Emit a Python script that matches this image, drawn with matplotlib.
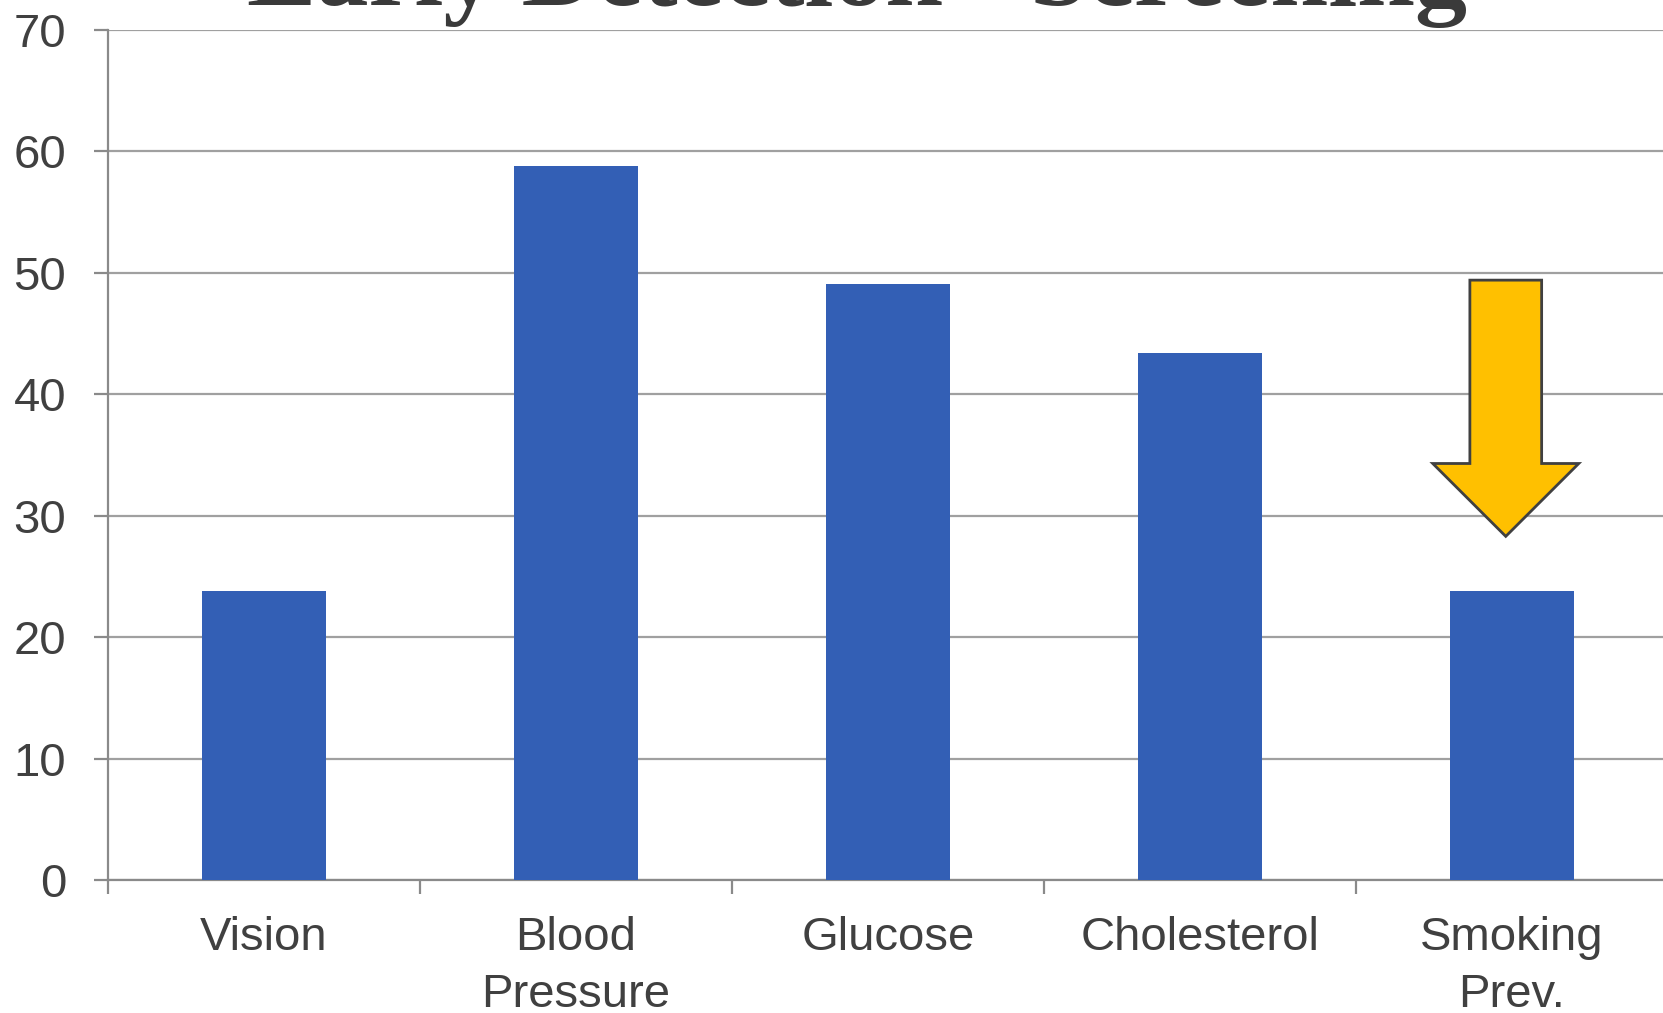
import matplotlib
matplotlib.use("Agg")
import matplotlib.pyplot as plt
import numpy as np

# screening rates by category
categories = ["Vision", "Blood\nPressure", "Glucose", "Cholesterol", "Smoking\nPrev."]
values = [23.8, 58.8, 49.1, 43.4, 23.8]
yticks = [0, 10, 20, 30, 40, 50, 60, 70]

# down arrow over the smoking bar
arrow_x = 3.98
arrow_top = 49.4
arrow_tip = 28.3

bar_color = "#335fb5"
text_color = "#404040"
grid_color = "#a0a0a0"
axis_color = "#8a8a8a"

plt.rcParams['font.family'] = ['Liberation Sans', 'DejaVu Sans']

fig = plt.figure(figsize=(16.63, 10.13), dpi=100)
ax = fig.add_axes([108 / 1663, 133 / 1013, 1560 / 1663, 850 / 1013])

x = np.arange(len(categories))
ax.bar(x, values, width=0.4, color=bar_color, zorder=3)

ax.set_xlim(-0.5, len(categories) - 0.5)
ax.set_ylim(0, 70)
ax.set_yticks(yticks)
ax.set_yticklabels([str(v) for v in yticks])
ax.yaxis.grid(True, color=grid_color, lw=1.6, zorder=0)
ax.set_axisbelow(True)

ax.set_xticks(x)
ax.set_xticklabels(categories, linespacing=1.38)
ax.set_xticks(np.arange(len(categories) + 1) - 0.5, minor=True)

for s in ["top", "right"]:
    ax.spines[s].set_visible(False)
for s in ["left", "bottom"]:
    ax.spines[s].set_color(axis_color)
    ax.spines[s].set_linewidth(1.6)

ax.tick_params(axis="y", length=10, width=1.6, color=axis_color, pad=20,
               labelsize=34, labelcolor=text_color)
ax.tick_params(axis="x", which="major", length=0, pad=26,
               labelsize=34, labelcolor=text_color)
ax.tick_params(axis="x", which="minor", length=10, width=1.6, color=axis_color)

ax.arrow(arrow_x, arrow_top, 0, arrow_tip - arrow_top, width=0.23,
         head_width=0.468, head_length=6.0, length_includes_head=True,
         fc="#ffc000", ec=text_color, lw=2, zorder=4)

fig.text(857 / 1663, 1 - 5 / 1013, "Early Detection - Screening",
         ha="center", va="baseline", fontsize=75, fontweight="bold",
         family=["Liberation Serif", "DejaVu Serif"], color="#3a3a3a")

fig.savefig("out.png", dpi=100)
